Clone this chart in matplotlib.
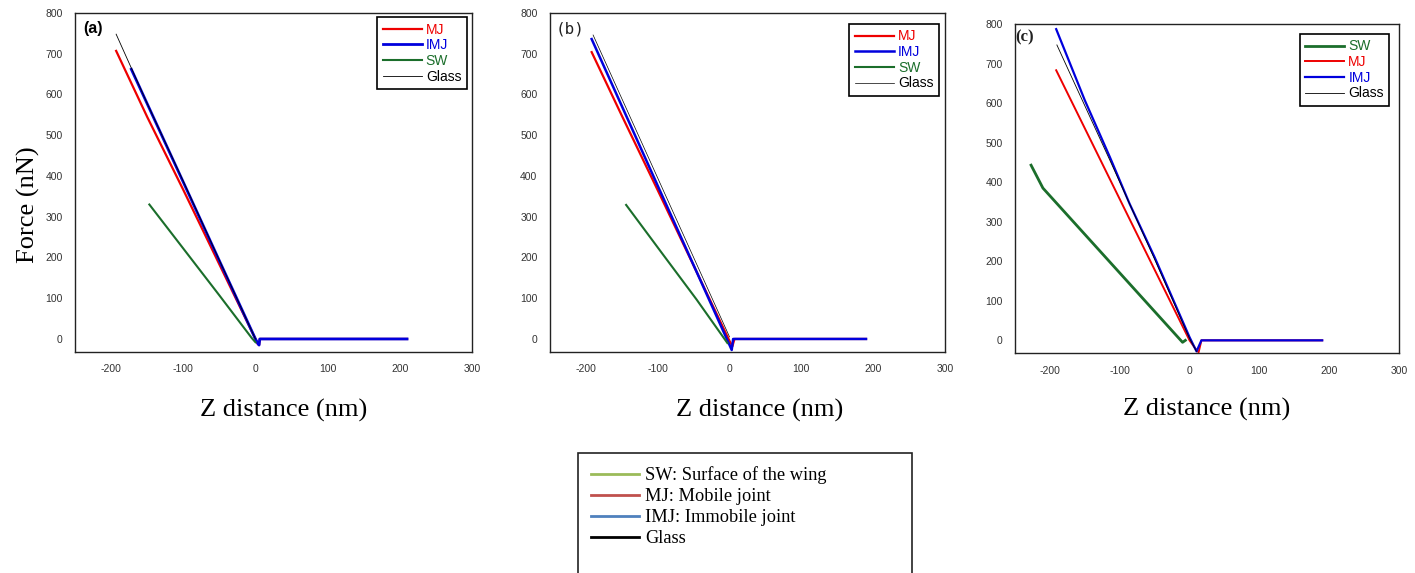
import matplotlib
matplotlib.use("Agg")
import matplotlib.pyplot as plt
from matplotlib.lines import Line2D
from matplotlib.patches import Rectangle

plt.rcParams["axes.unicode_minus"] = False

# ---- data (Z distance nm, Force nN) ----
# panel (a)
a_mj_x = [-193, -150, -100, -50, 0, 3, 5, 6, 210]
a_mj_y = [707, 545, 366, 183, 0, -12, -15, 0, 0]
a_imj_x = [-172, -100, -50, 0, 3, 5, 6, 210]
a_imj_y = [662, 385, 192, 0, -10, -15, 0, 0]
a_sw_x = [-147, -100, -50, -20, -5, 0]
a_sw_y = [330, 222, 107, 37, 2, -8]
a_glass_x = [-193, -150, -100, -50, 0]
a_glass_y = [748, 578, 387, 193, 0]

# panel (b)
b_mj_x = [-192, -150, -100, -50, 0, 4, 6, 7, 190]
b_mj_y = [704, 548, 365, 180, -5, -18, -5, 0, 0]
b_imj_x = [-192, -100, -50, 0, 3, 5, 190]
b_imj_y = [736, 376, 181, -15, -27, 0, 0]
b_sw_x = [-144, -93, -46, -3]
b_sw_y = [329, 208, 97, -10]
b_glass_x = [-190, -100, -50, 0]
b_glass_y = [746, 395, 200, 5]

# panel (c)
c_sw_x = [-227, -210, -10, -6]
c_sw_y = [443, 385, -5, 0]
c_mj_x = [-191, -86, 0, 10, 13, 17, 190]
c_mj_y = [683, 307, 0, -25, -30, 0, 0]
c_imj_x = [-191, -150, -114, -86, -50, 0, 10, 17, 190]
c_imj_y = [787, 607, 463, 346, 210, 8, -28, 0, 0]
c_glass_x = [-190, -114, -50, 0, 10]
c_glass_y = [747, 455, 205, 5, -28]

x_ticks = [-200, -100, 0, 100, 200, 300]
y_ticks = [0, 100, 200, 300, 400, 500, 600, 700, 800]

RED = "#ee0000"
BLUE = "#0000dd"
GREEN = "#1b6e2b"
BLACK = "#000000"

W, H = 1415, 573
fig = plt.figure(figsize=(W / 100, H / 100), dpi=100)


def px_axes(left, top, right, bottom):
    return fig.add_axes([left / W, 1 - bottom / H, (right - left) / W, (bottom - top) / H])


def style_axes(ax):
    ax.set_xlim(-250, 300)
    ax.set_ylim(-32, 800)
    ax.set_xticks(x_ticks)
    ax.set_yticks(y_ticks)
    ax.tick_params(length=0, labelsize=7.5, colors="#333333", pad=9)
    for lab in ax.get_xticklabels() + ax.get_yticklabels():
        lab.set_family("Liberation Sans")
    for sp in ax.spines.values():
        sp.set_color("#222222")
        sp.set_linewidth(1.0)


def panel_legend(ax, anchor):
    leg = ax.legend(loc="upper right", bbox_to_anchor=anchor, fancybox=False,
                    edgecolor="black", framealpha=1, handlelength=2.8,
                    handletextpad=0.3, labelspacing=0.12, borderpad=0.4,
                    borderaxespad=0, prop={"family": "Liberation Sans", "size": 10})
    leg.get_frame().set_linewidth(1.2)
    for line, text in zip(leg.get_lines(), leg.get_texts()):
        text.set_color(line.get_color())
    return leg


# (a)
ax_a = px_axes(75, 13, 472, 352)
ax_a.plot(a_mj_x, a_mj_y, color=RED, lw=1.6, label="MJ")
ax_a.plot(a_imj_x, a_imj_y, color=BLUE, lw=2.0, label="IMJ")
ax_a.plot(a_sw_x, a_sw_y, color=GREEN, lw=1.5, label="SW")
ax_a.plot(a_glass_x, a_glass_y, color=BLACK, lw=0.6, label="Glass")
style_axes(ax_a)
panel_legend(ax_a, (0.987, 0.988))
ax_a.text(0.02, 0.975, "(a)", transform=ax_a.transAxes, ha="left", va="top",
          fontsize=11.5, fontweight="bold", family="Liberation Sans")

# (b)
ax_b = px_axes(550, 13, 945, 352)
ax_b.plot(b_mj_x, b_mj_y, color=RED, lw=1.6, label="MJ")
ax_b.plot(b_imj_x, b_imj_y, color=BLUE, lw=1.8, label="IMJ")
ax_b.plot(b_sw_x, b_sw_y, color=GREEN, lw=1.5, label="SW")
ax_b.plot(b_glass_x, b_glass_y, color=BLACK, lw=0.5, label="Glass")
style_axes(ax_b)
panel_legend(ax_b, (0.985, 0.968))
ax_b.text(0.015, 0.975, "(b)", transform=ax_b.transAxes, ha="left", va="top",
          fontsize=11.5, family="DejaVu Sans Mono", color="#222222")

# (c)
ax_c = px_axes(1015, 24, 1399, 353)
ax_c.plot(c_sw_x, c_sw_y, color=GREEN, lw=2.0, label="SW")
ax_c.plot(c_mj_x, c_mj_y, color=RED, lw=1.4, label="MJ")
ax_c.plot(c_imj_x, c_imj_y, color=BLUE, lw=1.6, label="IMJ")
ax_c.plot(c_glass_x, c_glass_y, color=BLACK, lw=0.6, label="Glass")
style_axes(ax_c)
panel_legend(ax_c, (0.975, 0.97))
ax_c.text(0.0, 0.985, "(c)", transform=ax_c.transAxes, ha="left", va="top",
          fontsize=12, fontweight="bold", family="Liberation Serif", color="#222222")

# axis titles
for ax, xc in [(ax_a, 0.525), (ax_b, 0.53), (ax_c, 0.5)]:
    ax.text(xc, -0.171, "Z distance (nm)", transform=ax.transAxes, ha="center",
            va="center", fontsize=19, family="Liberation Serif")
fig.text(28 / W, 1 - 205 / H, "Force (nN)", rotation=90, ha="center", va="center",
         fontsize=19, family="Liberation Serif")

# shared key at the bottom
fig.patches.append(Rectangle((578 / W, 1 - 600 / H), (912 - 578) / W, (600 - 453) / H,
                             transform=fig.transFigure, fill=False, edgecolor="#222222",
                             lw=1.2))
key_labels = ["SW: Surface of the wing", "MJ: Mobile joint", "IMJ: Immobile joint", "Glass"]
key_colors = ["#9bbb59", "#c0504d", "#4f81bd", "#000000"]
handles = [Line2D([0], [0], color=c, lw=2.0) for c in key_colors]
fig.legend(handles, key_labels, loc="upper left", bbox_to_anchor=(582 / W, 1 - 457 / H),
           frameon=False, handlelength=2.6, handletextpad=0.35, labelspacing=0.22,
           borderpad=0, prop={"family": "Liberation Serif", "size": 13.2})

fig.savefig("out.png", dpi=100)
